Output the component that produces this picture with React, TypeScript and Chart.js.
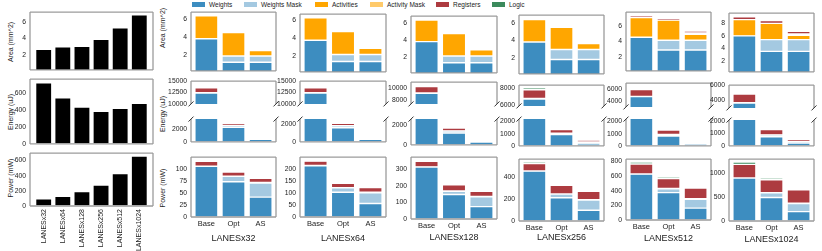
import React, { useEffect, useRef } from "react";
import { Chart, registerables } from "chart.js";

Chart.register(...registerables);

const FONT = "'Liberation Sans', Arial, sans-serif";

// ---------------- data ----------------
const components = ["Weights", "Weights Mask", "Activities", "Activity Mask", "Registers", "Logic"];
const componentColors = ["#3d8dc0", "#a4c9e1", "#ffa600", "#ffca6a", "#ad3b40", "#3b8a5c"];
const configs = ["Base", "Opt", "AS"];
const lanes = ["LANESx32", "LANESx64", "LANESx128", "LANESx256", "LANESx512", "LANESx1024"];

const summaryArea = [2.68, 3.0, 3.05, 3.9, 5.3, 6.85];
const summaryEnergy = [718, 540, 432, 382, 417, 477];
const summaryPower = [94, 128, 192, 278, 428, 659];

// rows: components (Weights .. Logic); columns: Base, Opt, AS
const areaX32 = [[3.78, 1.17, 1.17], [0, 0.69, 0.69], [2.58, 2.61, 0.62], [0, 0, 0.15], [0.05, 0.05, 0.05], [0.03, 0.03, 0.03]];
const areaX64 = [[3.78, 1.38, 1.38], [0, 0.79, 0.79], [2.53, 2.59, 0.69], [0, 0, 0.08], [0.07, 0.08, 0.1], [0.03, 0.03, 0.03]];
const areaX128 = [[3.83, 1.38, 1.38], [0, 0.79, 0.79], [2.51, 2.59, 0.72], [0, 0, 0.1], [0.1, 0.12, 0.12], [0.03, 0.03, 0.03]];
const areaX256 = [[3.81, 1.83, 1.83], [0, 1.13, 1.13], [2.54, 2.52, 0.67], [0, 0, 0.1], [0.15, 0.15, 0.15], [0.04, 0.04, 0.04]];
const areaX512 = [[4.55, 2.89, 2.89], [0, 1.27, 1.27], [2.55, 2.59, 0.78], [0, 0, 0.15], [0.25, 0.25, 0.25], [0.07, 0.07, 0.07]];
const areaX1024 = [[6.0, 3.5, 3.5], [0, 1.9, 1.9], [2.6, 2.6, 0.7], [0, 0, 0.2], [0.45, 0.45, 0.45], [0.15, 0.15, 0.15]];

const energyX32 = [[12400, 2350, 440], [0, 300, 130], [80, 20, 10], [0, 0, 10], [1050, 340, 200], [220, 130, 80]];
const energyX64 = [[12400, 1580, 300], [0, 210, 140], [80, 20, 10], [0, 0, 10], [1050, 280, 140], [220, 110, 80]];
const energyX128 = [[9100, 1180, 280], [0, 200, 120], [60, 10, 10], [0, 0, 10], [1070, 280, 80], [240, 110, 50]];
const energyX256 = [[6700, 930, 165], [0, 110, 140], [60, 10, 10], [0, 0, 10], [1000, 300, 150], [240, 70, 45]];
const energyX512 = [[4700, 810, 160], [0, 120, 120], [50, 10, 10], [0, 0, 10], [1110, 360, 110], [190, 100, 40]];
const energyX1024 = [[3650, 750, 230], [0, 140, 120], [50, 10, 10], [0, 0, 10], [1150, 440, 170], [150, 70, 45]];

const powerX32 = [[106.8, 74.3, 41.9], [0, 11.5, 29.7], [0.5, 0.3, 0.4], [0, 0, 1.0], [10.3, 8.5, 8.8], [2.7, 2.7, 2.0]];
const powerX64 = [[213, 103, 56], [0, 18, 45], [0.8, 0.5, 0.5], [0, 0, 1], [18.2, 18.5, 19.5], [5, 4, 3.5]];
const powerX128 = [[312, 147, 74], [0, 20, 59], [1, 1, 1], [0, 0, 2], [33, 37, 31], [8, 6, 6]];
const powerX256 = [[455, 212, 98], [0, 34, 93], [2, 1, 1], [0, 0, 3], [66, 79, 76], [15, 9, 6]];
const powerX512 = [[625, 373, 162], [0, 54, 121], [3, 2, 2], [0, 0, 4], [136, 137, 147], [27, 23, 13]];
const powerX1024 = [[889, 486, 194], [0, 97, 167], [4, 3, 3], [0, 0, 6], [281, 268, 276], [48, 35, 21]];

// axis limits & ticks
const summaryAreaTicks = [2, 4, 6];
const summaryEnergyTicks = [0, 200, 400, 600];
const summaryPowerTicks = [0, 200, 400, 600];
const areaTicks = [[2, 4, 6], [2, 4, 6], [2, 4, 6], [2, 4, 6], [2, 4, 6], [2, 4, 6, 8]];
const energyTopTicks = [[10000, 12500, 15000], [10000, 12500, 15000], [8000, 10000], [6000, 8000], [4000, 6000], [4000, 6000]];
const energyTopLimits = [[10000, 15000], [10000, 15000], [7300, 11000], [5900, 8300], [3000, 6950], [3000, 6050]];
const energyBottomTicks = [[0, 2000], [0, 2000], [0, 2000], [0, 1000, 2000], [0, 1000, 2000], [0, 1000, 2000]];
const energyBottomMax = [3700, 2550, 2550, 2200, 2200, 2100];
const powerTicks = [[0, 25, 50, 75, 100], [0, 50, 100, 150, 200], [0, 100, 200, 300], [0, 200, 400], [0, 200, 400, 600, 800], [0, 500, 1000]];

const areaData = [areaX32, areaX64, areaX128, areaX256, areaX512, areaX1024];
const energyData = [energyX32, energyX64, energyX128, energyX256, energyX512, energyX1024];
const powerData = [powerX32, powerX64, powerX128, powerX256, powerX512, powerX1024];

// ---------------- layout ----------------
const summaryLeft = 30, summaryRight = 153;
const summaryAreaRow = [10, 73], summaryEnergyRow = [77, 147], summaryPowerRow = [151, 206];
const colLeft = [191, 300, 411, 519, 626, 729];
const colRight = [276, 386, 497, 604, 711, 814];
const areaRows = [[10, 74], [12, 75], [14, 76], [13, 77], [10, 74], [11, 75]];
const eTopRows = [[79, 107], [79, 107], [80, 107], [83, 109], [81, 110], [83, 111]];
const eBotRows = [[117, 145], [117, 145], [117, 148], [117, 149], [117, 149], [118, 149]];
const powerRows = [[155, 217], [155, 217], [155, 219], [157, 221], [157, 220], [157, 221]];
const titleYs = [238, 238, 237, 237, 238, 239];
const legendX = [192, 244, 315, 370, 436, 492];

const YW = 30, PT = 6, PR = 5, PB = 5;
const BW = 0.85;

type DS = { label: string; data: number[]; color: string };
type Spec = {
  left: number; right: number; top: number; bottom: number;
  labels: string[]; datasets: DS[];
  yMin: number; yMax: number; yTicks: number[];
  showX?: boolean; rotateX?: boolean; xTitle?: string; xh?: number;
  sides: string; breakTop?: boolean; breakBottom?: boolean;
};

function Panel({ spec }: { spec: Spec }) {
  const ref = useRef<HTMLCanvasElement | null>(null);
  const xh = spec.showX ? spec.xh || 0 : 0;
  const w = YW + (spec.right - spec.left) + PR;
  const h = PT + (spec.bottom - spec.top) + (spec.showX ? xh : PB);
  useEffect(() => {
    const n = spec.labels.length;
    const m = 0.05 * (n - 1 + BW);
    const frame = {
      id: "frame",
      afterDraw(chart: any) {
        const { ctx, chartArea } = chart;
        const { left, right, top, bottom } = chartArea;
        ctx.save();
        ctx.strokeStyle = "#9c9c9c";
        ctx.lineWidth = 1.3;
        ctx.beginPath();
        if (spec.sides.includes("t")) { ctx.moveTo(left, top); ctx.lineTo(right, top); }
        if (spec.sides.includes("b")) { ctx.moveTo(left, bottom); ctx.lineTo(right, bottom); }
        if (spec.sides.includes("l")) { ctx.moveTo(left, top); ctx.lineTo(left, bottom); }
        if (spec.sides.includes("r")) { ctx.moveTo(right, top); ctx.lineTo(right, bottom); }
        ctx.stroke();
        ctx.strokeStyle = "#333";
        ctx.lineWidth = 1;
        ctx.beginPath();
        const d = 2.5;
        const marks: number[][] = [];
        if (spec.breakBottom) marks.push([left, bottom], [right, bottom]);
        if (spec.breakTop) marks.push([left, top], [right, top]);
        for (const [x, y] of marks) { ctx.moveTo(x - d, y + d); ctx.lineTo(x + d, y - d); }
        ctx.stroke();
        ctx.restore();
      },
    };
    const chart = new Chart(ref.current as HTMLCanvasElement, {
      type: "bar",
      data: {
        labels: spec.labels.map((_, i) => i),
        datasets: spec.datasets.map((d) => ({
          label: d.label,
          data: d.data,
          backgroundColor: d.color,
          borderColor: "#ffffff",
          borderWidth: 0.7,
          borderSkipped: false,
          barPercentage: BW,
          categoryPercentage: 1,
          clip: 0,
        })),
      } as any,
      options: {
        animation: false,
        responsive: false,
        maintainAspectRatio: false,
        devicePixelRatio: 1,
        layout: { autoPadding: false, padding: { top: PT, right: PR, left: 0, bottom: spec.showX ? 0 : PB } },
        plugins: { legend: { display: false }, tooltip: { enabled: false } },
        scales: {
          x: {
            type: "linear",
            offset: false,
            min: -BW / 2 - m,
            max: n - 1 + BW / 2 + m,
            stacked: true,
            display: !!spec.showX,
            grid: { display: false, offset: false, drawTicks: false },
            border: { display: false },
            afterBuildTicks: (s: any) => { s.ticks = spec.labels.map((_, i) => ({ value: i })); },
            afterFit: (s: any) => { s.height = xh; },
            ticks: {
              autoSkip: false,
              padding: spec.rotateX ? 3 : 2,
              maxRotation: spec.rotateX ? 90 : 0,
              minRotation: spec.rotateX ? 90 : 0,
              color: "#222",
              font: { family: FONT, size: spec.rotateX ? 7 : 7.5 },
              callback: (v: any) => spec.labels[v as number],
            },
            title: {
              display: !!spec.xTitle,
              text: spec.xTitle || "",
              color: "#222",
              font: { family: FONT, size: 9 },
              padding: { top: 0, bottom: 0 },
            },
          },
          y: {
            stacked: true,
            min: spec.yMin,
            max: spec.yMax,
            grid: { display: false, drawTicks: false },
            border: { display: false },
            afterBuildTicks: (s: any) => { s.ticks = spec.yTicks.map((v) => ({ value: v })); },
            afterFit: (s: any) => { s.width = YW; },
            ticks: {
              padding: 4,
              color: "#222",
              font: { family: FONT, size: 6.8 },
              callback: (v: any) => String(v),
            },
          },
        },
      } as any,
      plugins: [frame],
    });
    return () => chart.destroy();
  }, []);
  return (
    <canvas
      ref={ref}
      width={w}
      height={h}
      style={{ position: "absolute", left: spec.left - YW, top: spec.top - PT, width: w, height: h }}
    />
  );
}

function YTitle({ x, y, text }: { x: number; y: number; text: string }) {
  return (
    <div
      style={{
        position: "absolute", left: x, top: y, transform: "translate(-50%, -50%) rotate(-90deg)",
        fontFamily: FONT, fontSize: 7, color: "#222", whiteSpace: "nowrap", lineHeight: 1,
      }}
    >
      {text}
    </div>
  );
}

function stackSets(rows: number[][]): DS[] {
  return components.map((c, i) => ({ label: c, data: rows[i], color: componentColors[i] }));
}
function maxTotal(rows: number[][]) {
  return Math.max(...configs.map((_, j) => rows.reduce((s, r) => s + r[j], 0)));
}

export default function App() {
  const specs: Spec[] = [];
  const black = (vals: number[]): DS[] => [{ label: "total", data: vals, color: "#000000" }];
  specs.push({ left: summaryLeft, right: summaryRight, top: summaryAreaRow[0], bottom: summaryAreaRow[1], labels: lanes, datasets: black(summaryArea), yMin: 0.2, yMax: Math.max(...summaryArea) * 1.05, yTicks: summaryAreaTicks, sides: "tlrb" });
  specs.push({ left: summaryLeft, right: summaryRight, top: summaryEnergyRow[0], bottom: summaryEnergyRow[1], labels: lanes, datasets: black(summaryEnergy), yMin: 0, yMax: Math.max(...summaryEnergy) * 1.06, yTicks: summaryEnergyTicks, sides: "tlrb" });
  specs.push({ left: summaryLeft, right: summaryRight, top: summaryPowerRow[0], bottom: summaryPowerRow[1], labels: lanes, datasets: black(summaryPower), yMin: 0, yMax: Math.max(...summaryPower) * 1.06, yTicks: summaryPowerTicks, sides: "tlrb", showX: true, rotateX: true, xh: 46 });

  lanes.forEach((lane, c) => {
    const L = colLeft[c], R = colRight[c];
    specs.push({ left: L, right: R, top: areaRows[c][0], bottom: areaRows[c][1], labels: configs, datasets: stackSets(areaData[c]), yMin: 0.2, yMax: maxTotal(areaData[c]) * 1.05, yTicks: areaTicks[c], sides: "tlrb" });
    specs.push({ left: L, right: R, top: eTopRows[c][0], bottom: eTopRows[c][1], labels: configs, datasets: stackSets(energyData[c]), yMin: energyTopLimits[c][0], yMax: energyTopLimits[c][1], yTicks: energyTopTicks[c], sides: "tlr", breakBottom: true });
    specs.push({ left: L, right: R, top: eBotRows[c][0], bottom: eBotRows[c][1], labels: configs, datasets: stackSets(energyData[c]), yMin: 0, yMax: energyBottomMax[c], yTicks: energyBottomTicks[c], sides: "blr", breakTop: true });
    specs.push({ left: L, right: R, top: powerRows[c][0], bottom: powerRows[c][1], labels: configs, datasets: stackSets(powerData[c]), yMin: 0, yMax: maxTotal(powerData[c]) * 1.05, yTicks: powerTicks[c], sides: "tlrb", showX: true, xTitle: lane, xh: titleYs[c] + 6 - powerRows[c][1] });
  });

  return (
    <div style={{ position: "absolute", left: 0, top: 0, width: 822, height: 251, background: "#fff", overflow: "hidden" }}>
      {components.map((c, i) => (
        <div key={c} style={{ position: "absolute", left: legendX[i], top: 0, height: 9, display: "flex", alignItems: "center", fontFamily: FONT, fontSize: 6.5, color: "#222", whiteSpace: "nowrap" }}>
          <span style={{ display: "inline-block", width: 13, height: 4.5, background: componentColors[i], marginRight: 4 }} />
          {c}
        </div>
      ))}
      <YTitle x={10} y={42} text="Area (mm^2)" />
      <YTitle x={10} y={112} text="Energy (uJ)" />
      <YTitle x={10} y={178} text="Power (mW)" />
      <YTitle x={162} y={28} text="Area (mm^2)" />
      <YTitle x={162} y={114} text="Energy (uJ)" />
      <YTitle x={162} y={188} text="Power (mW)" />
      {specs.map((s, i) => <Panel key={i} spec={s} />)}
    </div>
  );
}
